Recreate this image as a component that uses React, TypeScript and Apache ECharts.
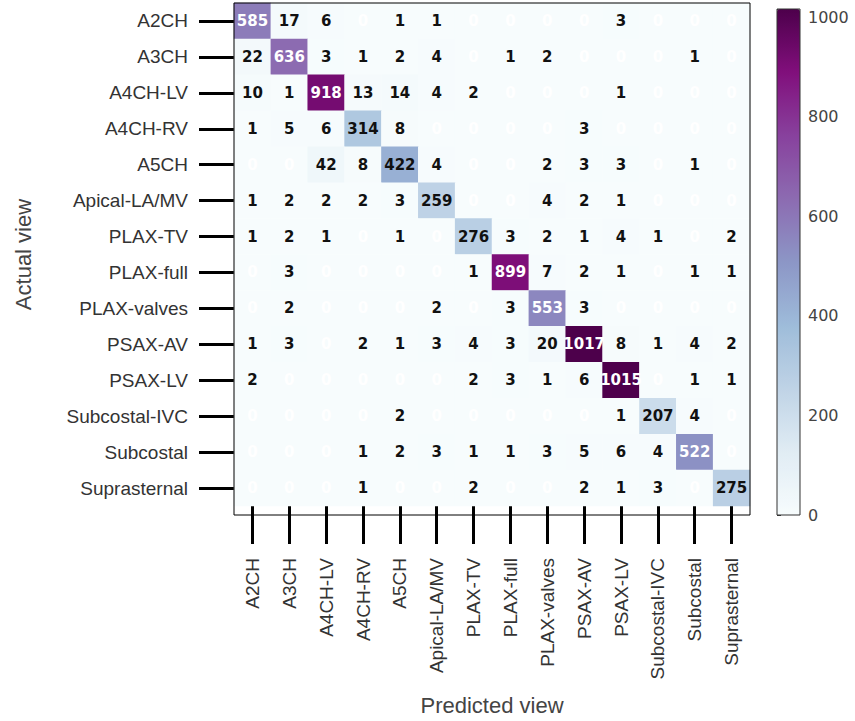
import React, { useEffect, useRef } from "react";
import * as echarts from "echarts";

const labels = [
  "A2CH", "A3CH", "A4CH-LV", "A4CH-RV", "A5CH", "Apical-LA/MV", "PLAX-TV",
  "PLAX-full", "PLAX-valves", "PSAX-AV", "PSAX-LV", "Subcostal-IVC", "Subcostal", "Suprasternal",
];

const rowA2CH = [585, 17, 6, 0, 1, 1, 0, 0, 0, 0, 3, 0, 0, 0];
const rowA3CH = [22, 636, 3, 1, 2, 4, 0, 1, 2, 0, 0, 0, 1, 0];
const rowA4CHLV = [10, 1, 918, 13, 14, 4, 2, 0, 0, 0, 1, 0, 0, 0];
const rowA4CHRV = [1, 5, 6, 314, 8, 0, 0, 0, 0, 3, 0, 0, 0, 0];
const rowA5CH = [0, 0, 42, 8, 422, 4, 0, 0, 2, 3, 3, 0, 1, 0];
const rowApical = [1, 2, 2, 2, 3, 259, 0, 0, 4, 2, 1, 0, 0, 0];
const rowPLAXTV = [1, 2, 1, 0, 1, 0, 276, 3, 2, 1, 4, 1, 0, 2];
const rowPLAXfull = [0, 3, 0, 0, 0, 0, 1, 899, 7, 2, 1, 0, 1, 1];
const rowPLAXvalves = [0, 2, 0, 0, 0, 2, 0, 3, 553, 3, 0, 0, 0, 0];
const rowPSAXAV = [1, 3, 0, 2, 1, 3, 4, 3, 20, 1017, 8, 1, 4, 2];
const rowPSAXLV = [2, 0, 0, 0, 0, 0, 2, 3, 1, 6, 1015, 0, 1, 1];
const rowSubIVC = [0, 0, 0, 0, 2, 0, 0, 0, 0, 0, 1, 207, 4, 0];
const rowSubcostal = [0, 0, 0, 1, 2, 3, 1, 1, 3, 5, 6, 4, 522, 0];
const rowSupra = [0, 0, 0, 1, 0, 0, 2, 0, 0, 2, 1, 3, 0, 275];

const matrix = [
  rowA2CH, rowA3CH, rowA4CHLV, rowA4CHRV, rowA5CH, rowApical, rowPLAXTV,
  rowPLAXfull, rowPLAXvalves, rowPSAXAV, rowPSAXLV, rowSubIVC, rowSubcostal, rowSupra,
];

const colorbarTicks = [0, 200, 400, 600, 800, 1000];
const vMin = 0;
const vMax = 1017;

const BuPu = ["#f7fcfd", "#e0ecf4", "#bfd3e6", "#9ebcda", "#8c96c6", "#8c6bb1", "#88419d", "#810f7c", "#4d004b"];

export default function App() {
  const ref = useRef<HTMLDivElement>(null);
  useEffect(() => {
    document.body.style.margin = "0";
    const chart = echarts.init(ref.current!, undefined, { renderer: "svg" });
    const data: any[] = [];
    matrix.forEach((row, r) => {
      row.forEach((v, c) => {
        data.push({
          value: [c, r, v],
          label: { color: v === 0 || v >= 500 ? "#ffffff" : "#111111" },
        });
      });
    });
    const gL = 234, gT = 3, gW = 516, gH = 512;
    const cbL = 777, cbT = 9, cbW = 23, cbH = 506;
    chart.setOption({
      animation: false,
      grid: [
        { left: gL, top: gT, width: gW, height: gH },
        { left: cbL, top: cbT, width: cbW, height: cbH },
      ],
      xAxis: [
        {
          type: "category",
          data: labels,
          gridIndex: 0,
          axisLine: { show: false },
          axisTick: { show: true, length: 38, alignWithLabel: true, lineStyle: { color: "#000", width: 3 } },
          axisLabel: { rotate: 90, margin: 52, fontFamily: "Liberation Sans", fontSize: 19, color: "#333" },
          splitLine: { show: false },
          name: "Predicted view",
          nameLocation: "middle",
          nameGap: 188,
          nameTextStyle: { fontFamily: "Liberation Sans", fontSize: 22, color: "#444" },
        },
        { type: "value", gridIndex: 1, show: false, min: 0, max: 1 },
      ],
      yAxis: [
        {
          type: "category",
          data: labels,
          inverse: true,
          gridIndex: 0,
          axisLine: { show: false },
          axisTick: { show: true, length: 35, alignWithLabel: true, lineStyle: { color: "#000", width: 3 } },
          axisLabel: { margin: 46, fontFamily: "Liberation Sans", fontSize: 19, color: "#333" },
          splitLine: { show: false },
          name: "Actual view",
          nameLocation: "middle",
          nameGap: 200,
          nameRotate: 90,
          nameTextStyle: { fontFamily: "Liberation Sans", fontSize: 22, color: "#444" },
        },
        {
          type: "value",
          gridIndex: 1,
          position: "right",
          min: vMin,
          max: vMax,
          interval: 200,
          axisLine: { show: false },
          axisTick: { show: true, length: 4, lineStyle: { color: "#333", width: 1 } },
          axisLabel: {
            margin: 8,
            fontFamily: "DejaVu Sans",
            fontSize: 16,
            color: "#444",
            customValues: colorbarTicks,
            formatter: (v: number) => String(v),
          },
          splitLine: { show: false },
        },
      ],
      visualMap: {
        type: "continuous",
        min: vMin,
        max: vMax,
        seriesIndex: 0,
        calculable: false,
        show: true,
        left: cbL,
        top: cbT,
        itemWidth: cbW,
        itemHeight: cbH,
        padding: 0,
        text: ["", ""],
        showLabel: false,
        inRange: { color: BuPu },
      },
      series: [
        {
          type: "heatmap",
          xAxisIndex: 0,
          yAxisIndex: 0,
          data,
          label: {
            show: true,
            fontFamily: "DejaVu Sans",
            fontWeight: "bold",
            fontSize: 15,
          },
          emphasis: { disabled: true },
        },
      ],
      graphic: [
        {
          type: "rect",
          shape: { x: gL, y: gT, width: gW, height: gH },
          style: { fill: "none", stroke: "#000", lineWidth: 1 },
          z: 100,
        },
        {
          type: "rect",
          shape: { x: cbL, y: cbT, width: cbW, height: cbH },
          style: { fill: "none", stroke: "#333", lineWidth: 1 },
          z: 100,
        },
      ],
    });
    return () => chart.dispose();
  }, []);
  return <div ref={ref} style={{ width: 855, height: 721 }} />;
}
